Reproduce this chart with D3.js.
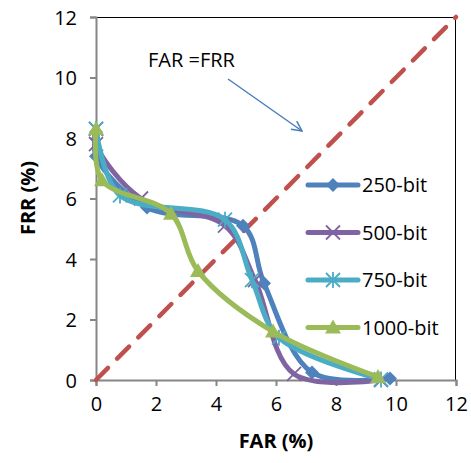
<!DOCTYPE html>
<html>
<head>
<meta charset="utf-8">
<script src="https://cdn.jsdelivr.net/npm/d3@7"></script>
<style>
  body { margin: 0; background: #fff; }
  text { font-family: "Open Sans", sans-serif; fill: #000; }
</style>
</head>
<body>
<script>
// data (FAR %, FRR %)
var seriesNames = ["250-bit", "500-bit", "750-bit", "1000-bit"];
var bit250 = [[0, 8.2], [0, 7.4], [1.7, 5.7], [4.9, 5.1], [5.6, 3.2], [7.2, 0.25], [9.8, 0.05]];
var bit500 = [[0, 8.3], [0, 7.8], [1.5, 6.0], [4.3, 5.1], [5.3, 3.3], [6.6, 0.2], [9.5, 0]];
var bit750 = [[0, 8.3], [0.8, 6.1], [4.3, 5.3], [5.2, 3.3], [6.1, 1.4], [9.5, 0.02]];
var bit1000 = [[0, 8.3], [0.2, 6.6], [2.5, 5.5], [3.4, 3.6], [5.9, 1.6], [9.4, 0.1]];
var eerLine = [[0, 0], [12, 12]];
var ticks = [0, 2, 4, 6, 8, 10, 12];

var colors = ["#4F81BD", "#8064A2", "#4BACC6", "#9BBB59"];
var markers = ["diamond", "cross", "star", "triangle"];
var allSeries = [bit250, bit500, bit750, bit1000];

var svg = d3.select("body").append("svg")
    .attr("width", 471)
    .attr("height", 463);

var margin = { top: 17, right: 15, bottom: 83, left: 96 },
    width = 471 - margin.left - margin.right,
    height = 463 - margin.top - margin.bottom,
    g = svg.append("g").attr("transform", "translate(" + margin.left + "," + margin.top + ")");

var x = d3.scaleLinear().domain([0, 12]).range([0, width]);
var y = d3.scaleLinear().domain([0, 12]).range([height, 0]);

// plot area border (top/right black)
g.append("path")
    .attr("d", "M0,0.5H" + (width - 0.5) + "V" + height)
    .attr("fill", "none")
    .attr("stroke", "#000")
    .attr("stroke-width", 1);

// axes
var xAxis = g.append("g")
    .attr("transform", "translate(0," + height + ")")
    .call(d3.axisBottom(x).tickValues(ticks).tickSize(6).tickPadding(11));
var yAxis = g.append("g")
    .call(d3.axisLeft(y).tickValues(ticks).tickSize(6).tickPadding(13));
[xAxis, yAxis].forEach(function (a) {
    a.select(".domain").attr("stroke", "#868686").attr("stroke-width", 2);
    a.selectAll(".tick line").attr("stroke", "#868686").attr("stroke-width", 2);
    a.selectAll(".tick text").style("font-size", "20px").style("font-family", "Open Sans, sans-serif");
});
yAxis.selectAll(".tick text").attr("dy", "0.35em");

// FAR = FRR dashed line
g.append("path")
    .datum(eerLine)
    .attr("fill", "none")
    .attr("stroke", "#C0504D")
    .attr("stroke-width", 4.5)
    .attr("stroke-dasharray", "17,13")
    .attr("stroke-linecap", "round")
    .attr("d", d3.line().x(function (d) { return x(d[0]); }).y(function (d) { return y(d[1]); }));

var line = d3.line()
    .curve(d3.curveCatmullRom.alpha(0.5))
    .x(function (d) { return x(d[0]); })
    .y(function (d) { return y(d[1]); });

function markerPath(type) {
    if (type === "diamond") return "M0,-7L7,0L0,7L-7,0Z";
    if (type === "triangle") return "M0,-8L8,6L-8,6Z";
    if (type === "cross") return "M-7,-7L7,7M-7,7L7,-7";
    return "M-7,-7L7,7M-7,7L7,-7M0,-8V8";
}

function drawMarker(sel, i) {
    var filled = markers[i] === "diamond" || markers[i] === "triangle";
    sel.append("path")
        .attr("d", markerPath(markers[i]))
        .attr("fill", filled ? colors[i] : "none")
        .attr("stroke", colors[i])
        .attr("stroke-width", filled ? 0 : 1.8);
}

allSeries.forEach(function (data, i) {
    var s = g.append("g");
    s.append("path")
        .datum(data)
        .attr("fill", "none")
        .attr("stroke", colors[i])
        .attr("stroke-width", 5)
        .attr("stroke-linejoin", "round")
        .attr("d", line);
    s.selectAll(".pt")
        .data(data)
        .enter().append("g")
        .attr("transform", function (d) { return "translate(" + x(d[0]) + "," + y(d[1]) + ")"; })
        .each(function () { drawMarker(d3.select(this), i); });
});

// legend
var legend = svg.append("g")
    .selectAll("g")
    .data(seriesNames)
    .enter().append("g")
    .attr("transform", function (d, i) { return "translate(308," + (185 + i * 47.5) + ")"; });

legend.append("line")
    .attr("x1", 0).attr("x2", 50)
    .attr("stroke", function (d, i) { return colors[i]; })
    .attr("stroke-width", 5)
    .attr("stroke-linecap", "round");

legend.append("g")
    .attr("transform", "translate(25,0)")
    .each(function (d, i) { drawMarker(d3.select(this), i); });

legend.append("text")
    .attr("x", 54)
    .attr("dy", "0.35em")
    .style("font-size", "20px")
    .text(function (d) { return d; });

// annotation
svg.append("text")
    .attr("x", 148)
    .attr("y", 67)
    .style("font-size", "20px")
    .text("FAR =FRR");

svg.append("defs").append("marker")
    .attr("id", "arr")
    .attr("viewBox", "0 0 12 12")
    .attr("refX", 11).attr("refY", 6)
    .attr("markerWidth", 12).attr("markerHeight", 12)
    .attr("markerUnits", "userSpaceOnUse")
    .attr("orient", "auto")
    .append("path")
    .attr("d", "M1,1L11,6L1,11")
    .attr("fill", "none")
    .attr("stroke", "#4A7EBB")
    .attr("stroke-width", 1.5);

svg.append("line")
    .attr("x1", 228).attr("y1", 79)
    .attr("x2", 302).attr("y2", 131)
    .attr("stroke", "#4A7EBB")
    .attr("stroke-width", 1.5)
    .attr("marker-end", "url(#arr)");

// axis titles
svg.append("text")
    .attr("x", 276)
    .attr("y", 448)
    .attr("text-anchor", "middle")
    .style("font-size", "20px")
    .style("font-weight", "bold")
    .text("FAR (%)");

svg.append("text")
    .attr("transform", "translate(35,198) rotate(-90)")
    .attr("text-anchor", "middle")
    .style("font-size", "20px")
    .style("font-weight", "bold")
    .text("FRR (%)");
</script>
</body>
</html>
